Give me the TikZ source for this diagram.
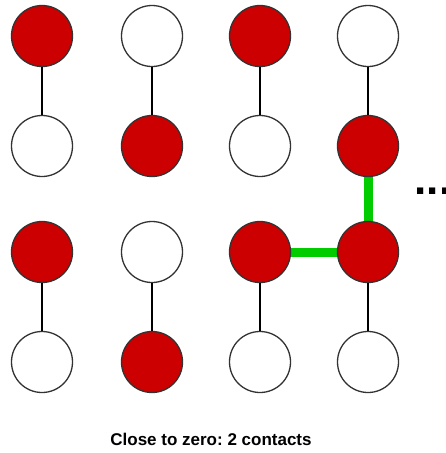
\documentclass[tikz,border=0pt]{standalone}
\usepackage{fontspec}
\setmainfont{Liberation Sans}
\usetikzlibrary{backgrounds}
\definecolor{beadred}{HTML}{CC0000}
\definecolor{contactgreen}{HTML}{00CC00}
\definecolor{rim}{HTML}{333333}
\frenchspacing
\begin{document}
\begin{tikzpicture}[x=1pt,y=-1pt,
  bead/.style={circle,draw=rim,line width=1.3pt,minimum size=61pt,inner sep=0pt},
  hbead/.style={bead,fill=beadred},
  pbead/.style={bead,fill=white},
  bond/.style={draw=black,line width=1.2pt},
  contact/.style={draw=contactgreen,line width=9pt}]
\useasboundingbox (0,0) rectangle (445,453);
% columns and rows of the lattice
\def\cA{42}\def\cB{152}\def\cC{260}\def\cD{368}
\def\rA{36}\def\rB{146}\def\rC{252}\def\rD{362}
% row 1
\node[hbead] (a1) at (\cA,\rA) {};
\node[pbead] (b1) at (\cB,\rA) {};
\node[hbead] (c1) at (\cC,\rA) {};
\node[pbead] (d1) at (\cD,\rA) {};
% row 2
\node[pbead] (a2) at (\cA,\rB) {};
\node[hbead] (b2) at (\cB,\rB) {};
\node[pbead] (c2) at (\cC,\rB) {};
\node[hbead] (d2) at (\cD,\rB) {};
% row 3
\node[hbead] (a3) at (\cA,\rC) {};
\node[pbead] (b3) at (\cB,\rC) {};
\node[hbead] (c3) at (\cC,\rC) {};
\node[hbead] (d3) at (\cD,\rC) {};
% row 4
\node[pbead] (a4) at (\cA,\rD) {};
\node[hbead] (b4) at (\cB,\rD) {};
\node[pbead] (c4) at (\cC,\rD) {};
\node[pbead] (d4) at (\cD,\rD) {};
% chain bonds
\foreach \c in {a,b,c,d}{
  \draw[bond] (\c1) -- (\c2);
  \draw[bond] (\c3) -- (\c4);
}
% hydrophobic contacts
\begin{scope}[on background layer]
  \draw[contact] (d2.center) -- (d3.center);
  \draw[contact] (c3.center) -- (d3.center);
\end{scope}
% continuation mark
\node[anchor=base west,inner sep=0pt,font=\bfseries\fontsize{44}{44}\selectfont] (more) at (414.5,194.5) {...};
% caption
\node[anchor=base,inner sep=0pt,font=\bfseries\fontsize{17}{20}\selectfont] (caption) at (211,445) {Close to zero: 2 contacts};
\end{tikzpicture}
\end{document}
